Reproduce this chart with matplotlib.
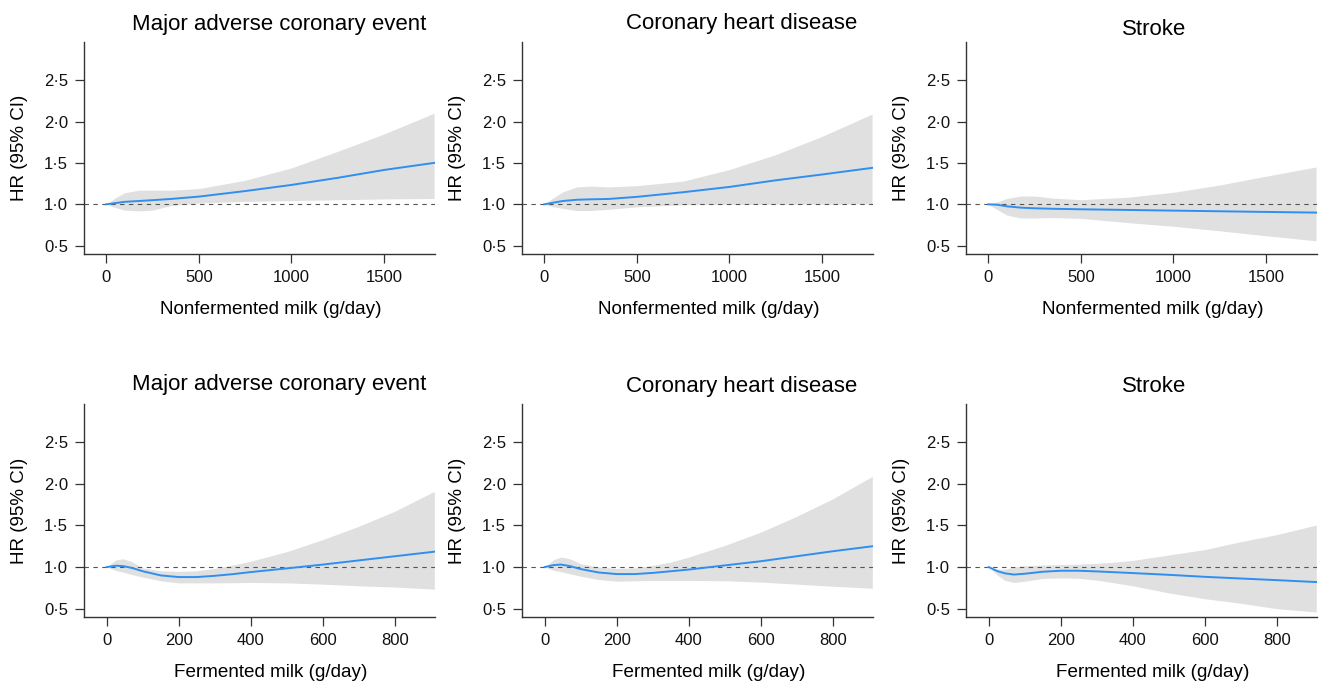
import matplotlib
matplotlib.use("Agg")
import matplotlib.pyplot as plt

plt.rcParams['font.family'] = ['Liberation Sans', 'DejaVu Sans']

# x grids (g/day)
x_nonferm = [0, 50, 100, 175, 250, 350, 500, 750, 1000, 1250, 1500, 1770]
x_ferm = [0, 25, 45, 70, 100, 150, 200, 250, 300, 350, 400, 500, 600, 700, 800, 910]

# Nonfermented milk - major adverse coronary event
mace_nf_hr = [1.0, 1.015, 1.03, 1.04, 1.05, 1.065, 1.093, 1.16, 1.234, 1.32, 1.415, 1.50]
mace_nf_lo = [1.0, 0.96, 0.93, 0.92, 0.93, 0.985, 1.015, 1.035, 1.045, 1.055, 1.065, 1.07]
mace_nf_hi = [1.0, 1.08, 1.14, 1.17, 1.17, 1.17, 1.19, 1.29, 1.44, 1.64, 1.85, 2.10]

# Nonfermented milk - coronary heart disease
chd_nf_hr = [1.0, 1.02, 1.04, 1.055, 1.06, 1.065, 1.09, 1.146, 1.21, 1.29, 1.36, 1.44]
chd_nf_lo = [1.0, 0.97, 0.95, 0.925, 0.925, 0.94, 0.97, 0.995, 1.0, 1.0, 1.002, 1.005]
chd_nf_hi = [1.0, 1.08, 1.15, 1.21, 1.22, 1.21, 1.225, 1.28, 1.42, 1.60, 1.82, 2.09]

# Nonfermented milk - stroke
str_nf_hr = [1.0, 0.995, 0.976, 0.96, 0.952, 0.946, 0.94, 0.932, 0.924, 0.916, 0.908, 0.90]
str_nf_lo = [1.0, 0.935, 0.87, 0.835, 0.835, 0.84, 0.83, 0.78, 0.735, 0.68, 0.62, 0.56]
str_nf_hi = [1.0, 1.03, 1.07, 1.10, 1.10, 1.075, 1.056, 1.085, 1.145, 1.233, 1.34, 1.45]

# Fermented milk - major adverse coronary event
mace_f_hr = [1.0, 1.016, 1.012, 0.99, 0.95, 0.90, 0.88, 0.88, 0.895, 0.915, 0.94, 0.984, 1.03, 1.08, 1.13, 1.185]
mace_f_lo = [1.0, 0.96, 0.94, 0.91, 0.88, 0.835, 0.81, 0.81, 0.81, 0.812, 0.815, 0.81, 0.795, 0.775, 0.76, 0.735]
mace_f_hi = [1.0, 1.085, 1.10, 1.065, 0.99, 0.955, 0.948, 0.955, 0.984, 1.024, 1.07, 1.185, 1.33, 1.49, 1.67, 1.91]

# Fermented milk - coronary heart disease
chd_f_hr = [1.0, 1.024, 1.03, 1.012, 0.976, 0.935, 0.916, 0.916, 0.93, 0.95, 0.97, 1.02, 1.07, 1.13, 1.19, 1.25]
chd_f_lo = [1.0, 0.96, 0.945, 0.92, 0.89, 0.85, 0.83, 0.835, 0.84, 0.84, 0.84, 0.835, 0.82, 0.795, 0.77, 0.745]
chd_f_hi = [1.0, 1.09, 1.12, 1.10, 1.04, 1.0, 0.984, 0.99, 1.02, 1.06, 1.12, 1.26, 1.42, 1.61, 1.82, 2.09]

# Fermented milk - stroke
str_f_hr = [1.0, 0.95, 0.925, 0.91, 0.92, 0.944, 0.956, 0.956, 0.948, 0.938, 0.928, 0.907, 0.883, 0.863, 0.843, 0.82]
str_f_lo = [1.0, 0.90, 0.84, 0.815, 0.83, 0.863, 0.87, 0.865, 0.843, 0.81, 0.775, 0.69, 0.62, 0.565, 0.50, 0.46]
str_f_hi = [1.0, 0.975, 0.975, 1.0, 1.016, 1.024, 1.03, 1.035, 1.045, 1.06, 1.08, 1.145, 1.21, 1.305, 1.39, 1.505]

titles = ["Major adverse coronary event", "Coronary heart disease", "Stroke"]
xlabels = ["Nonfermented milk (g/day)", "Fermented milk (g/day)"]
yticks = [0.5, 1.0, 1.5, 2.0, 2.5]
yticklabels = ["0·5", "1·0", "1·5", "2·0", "2·5"]

panels = [
    [(x_nonferm, mace_nf_hr, mace_nf_lo, mace_nf_hi),
     (x_nonferm, chd_nf_hr, chd_nf_lo, chd_nf_hi),
     (x_nonferm, str_nf_hr, str_nf_lo, str_nf_hi)],
    [(x_ferm, mace_f_hr, mace_f_lo, mace_f_hi),
     (x_ferm, chd_f_hr, chd_f_lo, chd_f_hi),
     (x_ferm, str_f_hr, str_f_lo, str_f_hi)],
]

W, H = 1319, 684
fig = plt.figure(figsize=(W / 100, H / 100), dpi=100)

col_left = [84, 522, 966]
col_width = 351
row_top = [42, 404]
row_bottom = [254, 617]
title_x = [279, 742, 1154]
title_base = [[30, 29, 35], [390, 392, 392]]
xlims = [(-120, 1775), (-63, 912)]
xticks = [[0, 500, 1000, 1500], [0, 200, 400, 600, 800]]

for r in range(2):
    for c in range(3):
        x, hr, lo, hi = panels[r][c]
        ax = fig.add_axes([col_left[c] / W, 1 - row_bottom[r] / H,
                           col_width / W, (row_bottom[r] - row_top[r]) / H])
        ax.fill_between(x, lo, hi, color="#e0e0e0", lw=0)
        ax.axhline(1.0, color="#555555", lw=0.8, dashes=(4, 4))
        ax.plot(x, hr, color="#2f8ff0", lw=1.4)
        ax.set_xlim(*xlims[r])
        ax.set_ylim(0.4, 2.96)
        ax.set_xticks(xticks[r])
        ax.set_yticks(yticks)
        ax.set_yticklabels(yticklabels)
        for s in ["top", "right"]:
            ax.spines[s].set_visible(False)
        for s in ["left", "bottom"]:
            ax.spines[s].set_color("#333333")
            ax.spines[s].set_linewidth(1.0)
        ax.tick_params(length=6.5, width=0.9, color="#333333", pad=5,
                       labelsize=12, labelcolor="#111111")
        ax.text(0.531, -0.26, xlabels[r], transform=ax.transAxes,
                ha="center", va="center", fontsize=13.6)
        ax.text(-0.185, 0.5, "HR (95% CI)", transform=ax.transAxes,
                ha="center", va="center", rotation=90, fontsize=13.5)
        fig.text(title_x[c] / W, 1 - title_base[r][c] / H, titles[c],
                 ha="center", va="baseline", fontsize=16)

fig.savefig("out.png", dpi=100)
